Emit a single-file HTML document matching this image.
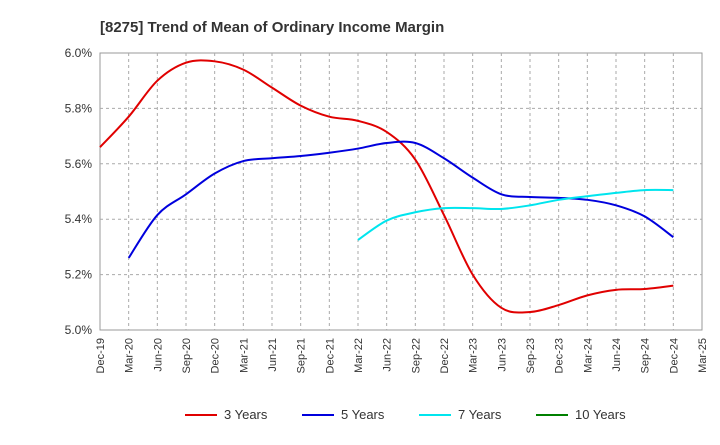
<!DOCTYPE html>
<html><head><meta charset="utf-8"><style>
body{margin:0;background:#fff;font-family:"Liberation Sans",Arial,sans-serif}
svg text{font-family:"Liberation Sans",Arial,sans-serif}
</style></head><body>
<svg id="c" width="720" height="440" xmlns="http://www.w3.org/2000/svg">
<text x="100" y="32" font-size="15" font-weight="bold" fill="#333">[8275]  Trend of Mean of Ordinary Income Margin</text>
<g id="grid"></g><g id="axes"></g><g id="series"></g><g id="legend"></g>
</svg>
<script>
const xLabels=["Dec-19","Mar-20","Jun-20","Sep-20","Dec-20","Mar-21","Jun-21","Sep-21","Dec-21","Mar-22","Jun-22","Sep-22","Dec-22","Mar-23","Jun-23","Sep-23","Dec-23","Mar-24","Jun-24","Sep-24","Dec-24","Mar-25"];
const yTicks=[5.0,5.2,5.4,5.6,5.8,6.0];
const y3=[5.66,5.77,5.90,5.965,5.97,5.94,5.875,5.81,5.77,5.755,5.715,5.615,5.415,5.20,5.08,5.065,5.09,5.125,5.145,5.148,5.16];
const y5=[null,5.26,5.415,5.49,5.565,5.61,5.62,5.628,5.64,5.655,5.675,5.675,5.62,5.55,5.49,5.48,5.477,5.47,5.45,5.41,5.335];
const y7=[null,null,null,null,null,null,null,null,null,5.325,5.395,5.425,5.44,5.44,5.437,5.45,5.47,5.483,5.495,5.505,5.505];
const y10=[];
const seriesNames=["3 Years","5 Years","7 Years","10 Years"];
const colors=["#e00000","#0000dd","#00e5ee","#008000"];
const L=100,R=702,T=53,B=330;
const xs=i=>L+(R-L)*i/(xLabels.length-1);
const ys=v=>B-(v-5.0)/(6.0-5.0)*(B-T);
const NS="http://www.w3.org/2000/svg";
function mk(t,p,a){const e=document.createElementNS(NS,t);for(const k in a)e.setAttribute(k,a[k]);p.appendChild(e);return e;}
const grid=document.getElementById('grid'),axes=document.getElementById('axes'),ser=document.getElementById('series'),leg=document.getElementById('legend');
mk('rect',grid,{x:L,y:T,width:R-L,height:B-T,fill:'none',stroke:'#999'});
xLabels.forEach((l,i)=>{
 const x=xs(i);
 if(i>0&&i<xLabels.length-1){const g=mk('line',grid,{x1:x,x2:x,y1:T,y2:B,stroke:'#aaa','stroke-dasharray':'3,3'});
 
 }
 const t=mk('text',axes,{x:x+4,y:B+8,'font-size':11,fill:'#333','text-anchor':'end',transform:`rotate(-90 ${x+4} ${B+8})`});
 t.textContent=l;
 
 
});
yTicks.forEach(v=>{
 const y=ys(v);
 if(v>5.0&&v<6.0){const g=mk('line',grid,{x1:L,x2:R,y1:y,y2:y,stroke:'#aaa','stroke-dasharray':'3,3'});
 
 }
 const t=mk('text',axes,{x:L-8,y:y+4,'font-size':12,fill:'#333','text-anchor':'end'});
 t.textContent=v.toFixed(1)+'%';
 
 
});
function path(vals){
 const p=[];vals.forEach((v,i)=>{if(v!=null)p.push([xs(i),ys(v)]);});
 if(p.length<2)return '';
 let d=`M${p[0][0]},${p[0][1]}`;
 for(let i=0;i<p.length-1;i++){
  const p0=p[i-1]||p[i],p1=p[i],p2=p[i+1],p3=p[i+2]||p2;
  d+=` C${p1[0]+(p2[0]-p0[0])/6},${p1[1]+(p2[1]-p0[1])/6} ${p2[0]-(p3[0]-p1[0])/6},${p2[1]-(p3[1]-p1[1])/6} ${p2[0]},${p2[1]}`;
 }
 return d;
}
[y3,y5,y7,y10].forEach((s,k)=>{
 const d=path(s);if(!d)return;
 const e=mk('path',ser,{d:d,fill:'none',stroke:colors[k],'stroke-width':2});
 
 
});
const lx=[185,302,419,536];
seriesNames.forEach((n,k)=>{
 const g=mk('g',leg,{});
 
 
 mk('line',g,{x1:lx[k],x2:lx[k]+32,y1:415,y2:415,stroke:colors[k],'stroke-width':2});
 const t=mk('text',g,{x:lx[k]+39,y:419,'font-size':13,fill:'#333'});t.textContent=n;
});
</script>
</body></html>
